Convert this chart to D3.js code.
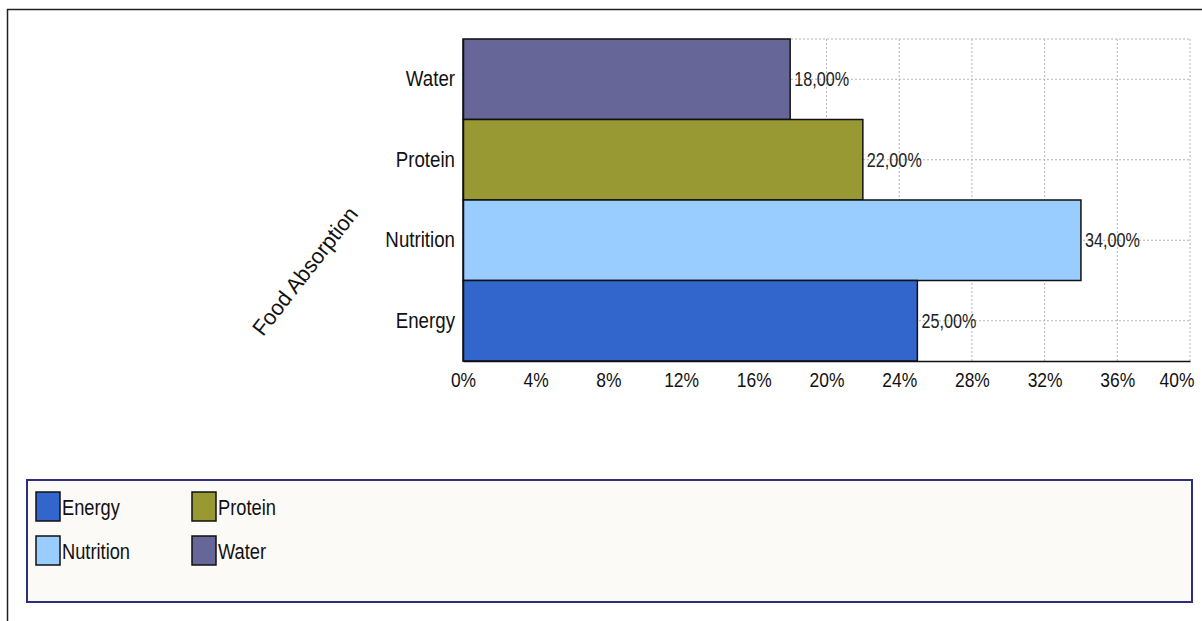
<!DOCTYPE html>
<html>
<head>
<meta charset="utf-8">
<script src="https://cdnjs.cloudflare.com/ajax/libs/d3/7.8.5/d3.min.js"></script>
<style>
  body { margin: 0; background: #fff; }
  svg { display: block; font-family: "Liberation Sans", Arial, sans-serif; }
</style>
</head>
<body>
<svg id="chart" width="1202" height="621"></svg>
<script>
  // data
  var categories = ['Water', 'Protein', 'Nutrition', 'Energy'];
  var values = [18, 22, 34, 25];
  var colors = ['#666699', '#999933', '#99ccff', '#3366cc'];
  var ticks = [0, 4, 8, 12, 16, 20, 24, 28, 32, 36, 40];
  var legendOrder = ['Energy', 'Protein', 'Nutrition', 'Water'];

  var svg = d3.select('#chart');
  var FONT = '"Liberation Sans", Arial, sans-serif';

  // the original's lettering is tall and narrow: squeeze text horizontally
  function condense(sel, k) {
      sel.each(function(){
          var w = this.getComputedTextLength();
          d3.select(this).attr('textLength', w * k).attr('lengthAdjust', 'spacingAndGlyphs');
      });
  }

  // outer frame (only top and left edges show)
  svg.append('path').attr('d', 'M7.5,621 V9.5 H1202')
     .attr('fill', 'none').attr('stroke', '#222').attr('stroke-width', 1.5);

  var plot = {left: 463, right: 1190, top: 39, bottom: 361};

  var x = d3.scaleLinear().domain([0, 40]).range([plot.left, plot.right]);
  var y = d3.scaleBand().domain(categories).range([plot.top, plot.bottom]).padding(0);

  var grid = svg.append('g').attr('class', 'grid');
  grid.selectAll('line.v').data(ticks.slice(1)).enter().append('line')
      .attr('x1', function(d){ return x(d); }).attr('x2', function(d){ return x(d); })
      .attr('y1', plot.top).attr('y2', plot.bottom)
      .attr('stroke', '#b4b4b4').attr('stroke-dasharray', '2,2');
  grid.selectAll('line.h').data(categories).enter().append('line')
      .attr('x1', plot.left).attr('x2', plot.right)
      .attr('y1', function(d){ return y(d) + y.bandwidth()/2; })
      .attr('y2', function(d){ return y(d) + y.bandwidth()/2; })
      .attr('stroke', '#b4b4b4').attr('stroke-dasharray', '2,2');
  grid.append('line').attr('x1', plot.left).attr('x2', plot.right)
      .attr('y1', plot.top).attr('y2', plot.top)
      .attr('stroke', '#b4b4b4').attr('stroke-dasharray', '2,2');

  // bars
  svg.selectAll('rect.bar').data(categories).enter().append('rect')
     .attr('class', 'bar')
     .attr('x', x(0))
     .attr('y', function(d){ return y(d); })
     .attr('width', function(d, i){ return x(values[i]) - x(0); })
     .attr('height', y.bandwidth())
     .attr('fill', function(d, i){ return colors[i]; })
     .attr('stroke', '#111').attr('stroke-width', 1.5);

  // value labels
  var vals = svg.selectAll('text.val').data(categories).enter().append('text')
     .attr('x', function(d, i){ return x(values[i]) + 4; })
     .attr('y', function(d){ return y(d) + y.bandwidth()/2; })
     .attr('dy', '0.35em')
     .attr('font-size', 20).attr('fill', '#222')
     .text(function(d, i){ return values[i].toFixed(2).replace('.', ',') + '%'; });
  condense(vals, 0.81);

  // axes
  var xAxis = d3.axisBottom(x).tickValues(ticks).tickSize(0).tickPadding(11)
      .tickFormat(function(d){ return d + '%'; });
  var gx = svg.append('g').attr('transform', 'translate(0,' + plot.bottom + ')').call(xAxis);
  gx.select('.domain').attr('stroke', '#111').attr('stroke-width', 1.5);
  gx.selectAll('text').attr('font-size', 21).attr('fill', '#111').attr('font-family', FONT);
  gx.selectAll('.tick').filter(function(d){ return d === 40; }).select('text')
     .attr('text-anchor', 'end').attr('dx', 4);
  condense(gx.selectAll('text'), 0.83);

  var yAxis = d3.axisLeft(y).tickSize(0).tickPadding(8);
  var gy = svg.append('g').attr('transform', 'translate(' + plot.left + ',0)').call(yAxis);
  gy.select('.domain').attr('stroke', '#111').attr('stroke-width', 1.5);
  gy.selectAll('text').attr('font-size', 22).attr('fill', '#111').attr('font-family', FONT);
  condense(gy.selectAll('text'), 0.85);

  // axis title
  svg.append('text')
     .attr('transform', 'translate(305,271) rotate(-52)')
     .attr('text-anchor', 'middle').attr('dy', '0.35em')
     .attr('font-size', 22).attr('fill', '#111')
     .attr('textLength', 156).attr('lengthAdjust', 'spacingAndGlyphs')
     .text('Food Absorption');

  // legend
  var legend = svg.append('g');
  legend.append('rect').attr('x', 27).attr('y', 480).attr('width', 1165).attr('height', 122)
        .attr('fill', '#fcfaf6').attr('stroke', '#2e2e80').attr('stroke-width', 2);
  var items = legend.selectAll('g.item').data(legendOrder).enter().append('g')
        .attr('transform', function(d, i){
          return 'translate(' + (36 + (i % 2) * 156) + ',' + (492 + Math.floor(i / 2) * 44) + ')';
        });
  items.append('rect').attr('width', 24).attr('height', 29)
       .attr('fill', function(d){ return colors[categories.indexOf(d)]; })
       .attr('stroke', '#111').attr('stroke-width', 1.5);
  var ltext = items.append('text').attr('x', 26).attr('y', 15).attr('dy', '0.35em')
       .attr('font-size', 22).attr('fill', '#111')
       .text(function(d){ return d; });
  condense(ltext, 0.83);
</script>
</body>
</html>
